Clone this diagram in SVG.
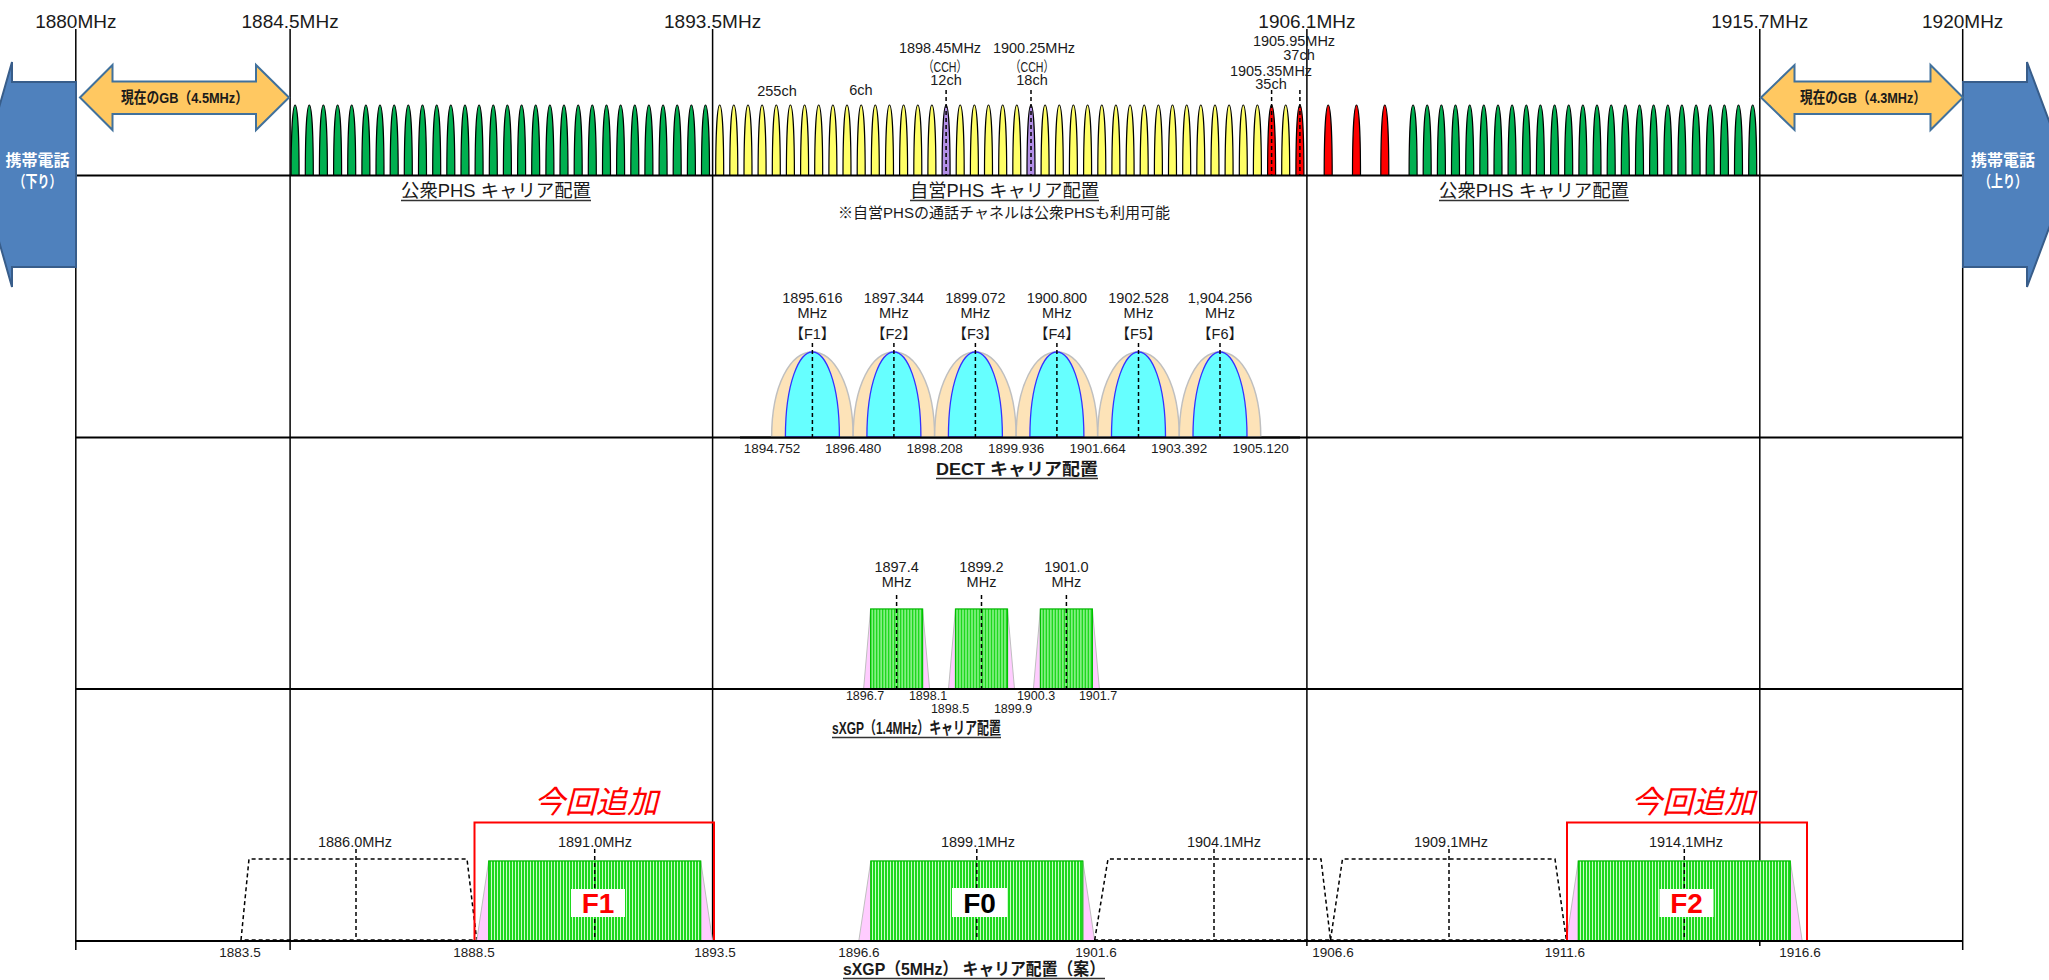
<svg xmlns="http://www.w3.org/2000/svg" xmlns:xlink="http://www.w3.org/1999/xlink" width="2049" height="980" viewBox="0 0 2049 980">
<style>
text{font-family:"Liberation Sans","Noto Sans CJK JP",sans-serif;fill:#1a1a1a}
.jp{font-family:"Noto Sans CJK JP","Liberation Sans",sans-serif}
.m{text-anchor:middle}
.s145{font-size:14.5px}
.s13{font-size:13.5px}
.s12{font-size:12.5px}
.top{font-size:19px}
.b{font-weight:bold}
.ax{stroke:#000;stroke-width:1.5;fill:none}
.base{stroke:#000;stroke-width:2;fill:none}
.ul{stroke:#333;stroke-width:1.3}
.dash{stroke:#000;stroke-width:1.5;stroke-dasharray:4 3;fill:none}
.g{fill:#00B050}.y{fill:#FFFF66}.p{fill:#B38FE8}.r{fill:#FF0000}
.blue{fill:#4F81BD;stroke:#385D8A;stroke-width:2}
.gb{fill:#FFC861;stroke:#41719C;stroke-width:2}
.do{fill:#FDE3B8;stroke:#BFBFBF;stroke-width:1.5}
.di{fill:#66FFFF;stroke:#3333FF;stroke-width:1.3}
.pk{fill:#FFCCFF;stroke:#BFBFBF;stroke-width:1}
.gr{fill:url(#stripes);stroke:#00C000;stroke-width:1.2}
.box{fill:none;stroke:#FF0000;stroke-width:2}
.add{font-family:"Noto Sans CJK JP",sans-serif;font-style:italic;font-size:31px;fill:#FF0000;text-anchor:middle}
.fl{font-size:28px;font-weight:bold;text-anchor:middle}
</style>
<defs>
<path id="bump" d="M-4,0 C-4,-38 -2.6,-70 0,-70 C2.6,-70 4,-38 4,0 Z" stroke="#000" stroke-width="1.2"/>
<pattern id="stripes" width="3" height="10" patternUnits="userSpaceOnUse">
<rect width="3" height="10" fill="#1ED81E"/>
<rect x="2" width="1" height="10" fill="#C8FFC8"/>
</pattern>
</defs>
<rect width="2049" height="980" fill="#fff"/>

<!-- axes -->
<g id="axes">
<line class="ax" x1="75.8" y1="29" x2="75.8" y2="950"/>
<line class="ax" x1="290.1" y1="29" x2="290.1" y2="950"/>
<line class="ax" x1="712.6" y1="29" x2="712.6" y2="941"/>
<line class="ax" x1="1306.9" y1="29" x2="1306.9" y2="946"/>
<line class="ax" x1="1759.8" y1="29" x2="1759.8" y2="946"/>
<line class="ax" x1="1962.7" y1="29" x2="1962.7" y2="950"/>
<line class="base" x1="75.8" y1="175.5" x2="1962.7" y2="175.5"/>
<line class="base" x1="75.8" y1="437.5" x2="1962.7" y2="437.5"/>
<line class="base" x1="75.8" y1="689" x2="1962.7" y2="689"/>
<line class="base" x1="75.8" y1="941" x2="1962.7" y2="941"/>
<text class="top m" x="75.8" y="28">1880MHz</text>
<text class="top m" x="290.1" y="28">1884.5MHz</text>
<text class="top m" x="712.6" y="28">1893.5MHz</text>
<text class="top m" x="1306.9" y="28">1906.1MHz</text>
<text class="top m" x="1759.8" y="28">1915.7MHz</text>
<text class="top m" x="1962.7" y="28">1920MHz</text>
</g>

<!-- mobile bands -->
<g id="mobile-down">
<path class="blue" d="M76,82 L12,82 L12,62 L-20,174.5 L12,287 L12,267 L76,267 Z"/>
<text class="jp b m" x="37.5" y="166" font-size="16" style="fill:#fff">携帯電話</text>
<text class="jp b m" x="37.5" y="187" font-size="16" style="fill:#fff" textLength="48" lengthAdjust="spacingAndGlyphs">（下り）</text>
</g>
<g id="mobile-up">
<path class="blue" d="M1963,82 L2027,82 L2027,62 L2069,174.5 L2027,287 L2027,267 L1963,267 Z"/>
<text class="jp b m" x="2003" y="166" font-size="16" style="fill:#fff">携帯電話</text>
<text class="jp b m" x="2003" y="187" font-size="16" style="fill:#fff" textLength="48" lengthAdjust="spacingAndGlyphs">（上り）</text>
</g>

<!-- guard bands -->
<g id="gb-left">
<path class="gb" d="M80,97.5 L112.5,65 L112.5,81.5 L256,81.5 L256,65 L289,97.5 L256,130 L256,114 L112.5,114 L112.5,130 Z"/>
<text class="b m" x="184.5" y="103" font-size="15.5" textLength="127" lengthAdjust="spacingAndGlyphs">現在のGB（4.5MHz）</text>
</g>
<g id="gb-right">
<path class="gb" d="M1761,97.5 L1794.5,65 L1794.5,81.5 L1930.5,81.5 L1930.5,65 L1963,97.5 L1930.5,130 L1930.5,114 L1794.5,114 L1794.5,130 Z"/>
<text class="b m" x="1863" y="103" font-size="15.5" textLength="126" lengthAdjust="spacingAndGlyphs">現在のGB（4.3MHz）</text>
</g>

<!-- PHS row -->
<g id="phs-public-left">
<g class="g" transform="translate(0,175)">
<use href="#bump" x="295.1"/><use href="#bump" x="309.3"/><use href="#bump" x="323.4"/><use href="#bump" x="337.6"/><use href="#bump" x="351.7"/><use href="#bump" x="365.9"/><use href="#bump" x="380.0"/><use href="#bump" x="394.2"/><use href="#bump" x="408.3"/><use href="#bump" x="422.5"/>
<use href="#bump" x="436.7"/><use href="#bump" x="450.8"/><use href="#bump" x="465.0"/><use href="#bump" x="479.1"/><use href="#bump" x="493.3"/><use href="#bump" x="507.4"/><use href="#bump" x="521.6"/><use href="#bump" x="535.7"/><use href="#bump" x="549.9"/><use href="#bump" x="564.0"/>
<use href="#bump" x="578.2"/><use href="#bump" x="592.3"/><use href="#bump" x="606.5"/><use href="#bump" x="620.6"/><use href="#bump" x="634.8"/><use href="#bump" x="648.9"/><use href="#bump" x="663.1"/><use href="#bump" x="677.2"/><use href="#bump" x="691.4"/><use href="#bump" x="705.5"/>
</g>
<text class="m" x="496" y="197" font-size="18" textLength="190" lengthAdjust="spacingAndGlyphs">公衆PHS キャリア配置</text>
<line class="ul" x1="401" y1="200.5" x2="591" y2="200.5"/>
</g>

<g id="phs-private">
<g class="y" transform="translate(0,175)">
<use href="#bump" x="719.7"/><use href="#bump" x="733.8"/><use href="#bump" x="748.0"/><use href="#bump" x="762.1"/><use href="#bump" x="776.3"/><use href="#bump" x="790.4"/><use href="#bump" x="804.6"/><use href="#bump" x="818.7"/><use href="#bump" x="832.9"/><use href="#bump" x="847.0"/>
<use href="#bump" x="861.2"/><use href="#bump" x="875.3"/><use href="#bump" x="889.5"/><use href="#bump" x="903.6"/><use href="#bump" x="917.8"/><use href="#bump" x="931.9"/>
<use href="#bump" x="960.2"/><use href="#bump" x="974.4"/><use href="#bump" x="988.5"/><use href="#bump" x="1002.7"/><use href="#bump" x="1016.8"/>
<use href="#bump" x="1045.1"/><use href="#bump" x="1059.3"/><use href="#bump" x="1073.4"/><use href="#bump" x="1087.6"/><use href="#bump" x="1101.8"/><use href="#bump" x="1115.9"/><use href="#bump" x="1130.1"/><use href="#bump" x="1144.2"/><use href="#bump" x="1158.4"/><use href="#bump" x="1172.5"/>
<use href="#bump" x="1186.7"/><use href="#bump" x="1200.8"/><use href="#bump" x="1215.0"/><use href="#bump" x="1229.1"/><use href="#bump" x="1243.3"/><use href="#bump" x="1257.4"/><use href="#bump" x="1285.7"/>
</g>
<g class="p" transform="translate(0,175)"><use href="#bump" x="946.1"/><use href="#bump" x="1031.0"/></g>
<g class="r" transform="translate(0,175)"><use href="#bump" x="1271.6"/><use href="#bump" x="1299.9"/></g>
<line class="dash" x1="946.1" y1="90" x2="946.1" y2="175"/>
<line class="dash" x1="1031.0" y1="90" x2="1031.0" y2="175"/>
<line class="dash" x1="1271.6" y1="90" x2="1271.6" y2="175"/>
<line class="dash" x1="1299.9" y1="90" x2="1299.9" y2="175"/>
<text class="s145 m" x="777" y="96">255ch</text>
<text class="s145 m" x="861" y="95">6ch</text>
<text class="s145 m" x="940" y="53">1898.45MHz</text>
<text class="s145 m" x="945" y="72" textLength="44" lengthAdjust="spacingAndGlyphs">（CCH）</text>
<text class="s145 m" x="946" y="85">12ch</text>
<text class="s145 m" x="1034" y="53">1900.25MHz</text>
<text class="s145 m" x="1032" y="72" textLength="44" lengthAdjust="spacingAndGlyphs">（CCH）</text>
<text class="s145 m" x="1032" y="85">18ch</text>
<text class="s145 m" x="1294" y="46">1905.95MHz</text>
<text class="s145 m" x="1299" y="60">37ch</text>
<text class="s145 m" x="1271" y="76">1905.35MHz</text>
<text class="s145 m" x="1271" y="89">35ch</text>
<text class="m" x="1004.5" y="197" font-size="18" textLength="189" lengthAdjust="spacingAndGlyphs">自営PHS キャリア配置</text>
<line class="ul" x1="910" y1="200.5" x2="1099" y2="200.5"/>
<text class="m" x="1004" y="218" font-size="15" textLength="332" lengthAdjust="spacingAndGlyphs">※自営PHSの通話チャネルは公衆PHSも利用可能</text>
</g>

<g id="phs-public-right">
<g class="r" transform="translate(0,175)"><use href="#bump" x="1328.2"/><use href="#bump" x="1356.5"/><use href="#bump" x="1384.8"/></g>
<g class="g" transform="translate(0,175)">
<use href="#bump" x="1413.1"/><use href="#bump" x="1427.2"/><use href="#bump" x="1441.4"/><use href="#bump" x="1455.5"/><use href="#bump" x="1469.7"/><use href="#bump" x="1483.8"/><use href="#bump" x="1498.0"/><use href="#bump" x="1512.1"/><use href="#bump" x="1526.3"/><use href="#bump" x="1540.4"/>
<use href="#bump" x="1554.6"/><use href="#bump" x="1568.7"/><use href="#bump" x="1582.9"/><use href="#bump" x="1597.0"/><use href="#bump" x="1611.2"/><use href="#bump" x="1625.3"/><use href="#bump" x="1639.5"/><use href="#bump" x="1653.6"/><use href="#bump" x="1667.8"/><use href="#bump" x="1681.9"/>
<use href="#bump" x="1696.1"/><use href="#bump" x="1710.2"/><use href="#bump" x="1724.4"/><use href="#bump" x="1738.5"/><use href="#bump" x="1752.7"/>
</g>
<text class="m" x="1534" y="197" font-size="18" textLength="190" lengthAdjust="spacingAndGlyphs">公衆PHS キャリア配置</text>
<line class="ul" x1="1439" y1="200.5" x2="1629" y2="200.5"/>
</g>

<!-- DECT row -->
<g id="dect">
<g transform="translate(812.4,0)"><path class="do" d="M-40.75,437 C-40.75,385 -22,352 0,352 C22,352 40.75,385 40.75,437 Z"/><path class="di" d="M-27,437 C-27,382 -13,352 0,352 C13,352 27,382 27,437 Z"/><line class="dash" x1="0" y1="343" x2="0" y2="437"/><text class="s145 m" x="0" y="303">1895.616</text><text class="s145 m" x="0" y="318">MHz</text><text class="s145 m" x="0" y="339">【F1】</text></g>
<g transform="translate(893.9,0)"><path class="do" d="M-40.75,437 C-40.75,385 -22,352 0,352 C22,352 40.75,385 40.75,437 Z"/><path class="di" d="M-27,437 C-27,382 -13,352 0,352 C13,352 27,382 27,437 Z"/><line class="dash" x1="0" y1="343" x2="0" y2="437"/><text class="s145 m" x="0" y="303">1897.344</text><text class="s145 m" x="0" y="318">MHz</text><text class="s145 m" x="0" y="339">【F2】</text></g>
<g transform="translate(975.4,0)"><path class="do" d="M-40.75,437 C-40.75,385 -22,352 0,352 C22,352 40.75,385 40.75,437 Z"/><path class="di" d="M-27,437 C-27,382 -13,352 0,352 C13,352 27,382 27,437 Z"/><line class="dash" x1="0" y1="343" x2="0" y2="437"/><text class="s145 m" x="0" y="303">1899.072</text><text class="s145 m" x="0" y="318">MHz</text><text class="s145 m" x="0" y="339">【F3】</text></g>
<g transform="translate(1056.9,0)"><path class="do" d="M-40.75,437 C-40.75,385 -22,352 0,352 C22,352 40.75,385 40.75,437 Z"/><path class="di" d="M-27,437 C-27,382 -13,352 0,352 C13,352 27,382 27,437 Z"/><line class="dash" x1="0" y1="343" x2="0" y2="437"/><text class="s145 m" x="0" y="303">1900.800</text><text class="s145 m" x="0" y="318">MHz</text><text class="s145 m" x="0" y="339">【F4】</text></g>
<g transform="translate(1138.5,0)"><path class="do" d="M-40.75,437 C-40.75,385 -22,352 0,352 C22,352 40.75,385 40.75,437 Z"/><path class="di" d="M-27,437 C-27,382 -13,352 0,352 C13,352 27,382 27,437 Z"/><line class="dash" x1="0" y1="343" x2="0" y2="437"/><text class="s145 m" x="0" y="303">1902.528</text><text class="s145 m" x="0" y="318">MHz</text><text class="s145 m" x="0" y="339">【F5】</text></g>
<g transform="translate(1220.0,0)"><path class="do" d="M-40.75,437 C-40.75,385 -22,352 0,352 C22,352 40.75,385 40.75,437 Z"/><path class="di" d="M-27,437 C-27,382 -13,352 0,352 C13,352 27,382 27,437 Z"/><line class="dash" x1="0" y1="343" x2="0" y2="437"/><text class="s145 m" x="0" y="303">1,904.256</text><text class="s145 m" x="0" y="318">MHz</text><text class="s145 m" x="0" y="339">【F6】</text></g>
<line class="base" x1="740" y1="437.5" x2="1300" y2="437.5"/>
<text class="s13 m" x="772" y="453">1894.752</text>
<text class="s13 m" x="853.2" y="453">1896.480</text>
<text class="s13 m" x="934.7" y="453">1898.208</text>
<text class="s13 m" x="1016.2" y="453">1899.936</text>
<text class="s13 m" x="1097.7" y="453">1901.664</text>
<text class="s13 m" x="1179.2" y="453">1903.392</text>
<text class="s13 m" x="1260.7" y="453">1905.120</text>
<text class="b m" x="1017" y="475" font-size="17" textLength="162" lengthAdjust="spacingAndGlyphs">DECT キャリア配置</text>
<line class="ul" x1="936" y1="478.5" x2="1098" y2="478.5"/>
</g>

<!-- sXGP 1.4MHz row -->
<g id="sxgp14">
<g transform="translate(896.6,0)"><path class="pk" d="M-33,689 L-26,609 L26,609 L33,689 Z"/><rect class="gr" x="-26" y="609" width="52" height="80"/><line class="dash" x1="0" y1="595" x2="0" y2="689"/><text class="s145 m" x="0" y="572">1897.4</text><text class="s145 m" x="0" y="587">MHz</text></g>
<g transform="translate(981.5,0)"><path class="pk" d="M-33,689 L-26,609 L26,609 L33,689 Z"/><rect class="gr" x="-26" y="609" width="52" height="80"/><line class="dash" x1="0" y1="595" x2="0" y2="689"/><text class="s145 m" x="0" y="572">1899.2</text><text class="s145 m" x="0" y="587">MHz</text></g>
<g transform="translate(1066.4,0)"><path class="pk" d="M-33,689 L-26,609 L26,609 L33,689 Z"/><rect class="gr" x="-26" y="609" width="52" height="80"/><line class="dash" x1="0" y1="595" x2="0" y2="689"/><text class="s145 m" x="0" y="572">1901.0</text><text class="s145 m" x="0" y="587">MHz</text></g>
<line class="base" x1="820" y1="689" x2="1120" y2="689"/>
<text class="s12 m" x="865" y="700">1896.7</text>
<text class="s12 m" x="928" y="700">1898.1</text>
<text class="s12 m" x="950" y="713">1898.5</text>
<text class="s12 m" x="1013" y="713">1899.9</text>
<text class="s12 m" x="1036" y="700">1900.3</text>
<text class="s12 m" x="1098" y="700">1901.7</text>
<text class="b m" x="916.5" y="734" font-size="17" textLength="169" lengthAdjust="spacingAndGlyphs">sXGP（1.4MHz）キャリア配置</text>
<line class="ul" x1="832" y1="737.5" x2="1001" y2="737.5"/>
</g>

<!-- sXGP 5MHz row -->
<g id="sxgp5-1886">
<path class="dash" d="M241,940 L249,859 L467,859 L476.7,940 Z"/>
<line class="dash" x1="356" y1="849" x2="356" y2="940"/>
<text class="s145 m" x="355" y="847">1886.0MHz</text>
</g>
<g id="sxgp5-F1">
<path class="pk" d="M476.7,941 L488.7,861 L700.7,861 L712.6,941 Z"/>
<rect class="gr" x="488.7" y="861" width="212" height="80"/>
<line class="dash" x1="594.7" y1="849" x2="594.7" y2="941"/>
<rect x="571" y="889" width="54" height="28" fill="#fff"/>
<text class="fl" x="598" y="913" style="fill:#FF0000">F1</text>
<text class="s145 m" x="595" y="847">1891.0MHz</text>
<rect class="box" x="474.5" y="822.5" width="239.5" height="118.5"/>
<text class="add" x="596" y="813">今回追加</text>
</g>
<g id="sxgp5-F0">
<path class="pk" d="M858.8,941 L870.8,861 L1082.8,861 L1094.7,941 Z"/>
<rect class="gr" x="870.8" y="861" width="212" height="80"/>
<line class="dash" x1="976.8" y1="849" x2="976.8" y2="941"/>
<rect x="952" y="888" width="55" height="29" fill="#fff"/>
<text class="fl" x="979.5" y="913" style="fill:#000">F0</text>
<text class="s145 m" x="978" y="847">1899.1MHz</text>
</g>
<g id="sxgp5-1904">
<path class="dash" d="M1094.7,940 L1108,859 L1321,859 L1330.5,940 Z"/>
<line class="dash" x1="1214" y1="849" x2="1214" y2="940"/>
<text class="s145 m" x="1224" y="847">1904.1MHz</text>
</g>
<g id="sxgp5-1909">
<path class="dash" d="M1330.5,940 L1342.5,859 L1555,859 L1566.4,940 Z"/>
<line class="dash" x1="1449" y1="849" x2="1449" y2="940"/>
<text class="s145 m" x="1451" y="847">1909.1MHz</text>
</g>
<g id="sxgp5-F2">
<path class="pk" d="M1566.4,941 L1578.3,861 L1790.3,861 L1802.2,941 Z"/>
<rect class="gr" x="1578.3" y="861" width="212" height="80"/>
<line class="dash" x1="1684.3" y1="849" x2="1684.3" y2="941"/>
<rect x="1659.5" y="889" width="54" height="28" fill="#fff"/>
<text class="fl" x="1686.5" y="913" style="fill:#FF0000">F2</text>
<text class="s145 m" x="1686" y="847">1914.1MHz</text>
<rect class="box" x="1567" y="822.5" width="240" height="118.5"/>
<text class="add" x="1693" y="813">今回追加</text>
</g>
<g id="sxgp5-axis">
<line class="base" x1="75.8" y1="941" x2="1962.7" y2="941"/>
<text class="s13 m" x="240" y="957">1883.5</text>
<text class="s13 m" x="474" y="957">1888.5</text>
<text class="s13 m" x="715" y="957">1893.5</text>
<text class="s13 m" x="858.8" y="957">1896.6</text>
<text class="s13 m" x="1096" y="957">1901.6</text>
<text class="s13 m" x="1333" y="957">1906.6</text>
<text class="s13 m" x="1565" y="957">1911.6</text>
<text class="s13 m" x="1800" y="957">1916.6</text>
<text class="b m" x="974" y="975" font-size="17" textLength="262" lengthAdjust="spacingAndGlyphs">sXGP（5MHz） キャリア配置（案）</text>
<line class="ul" x1="843" y1="978.5" x2="1105" y2="978.5"/>
</g>
</svg>
